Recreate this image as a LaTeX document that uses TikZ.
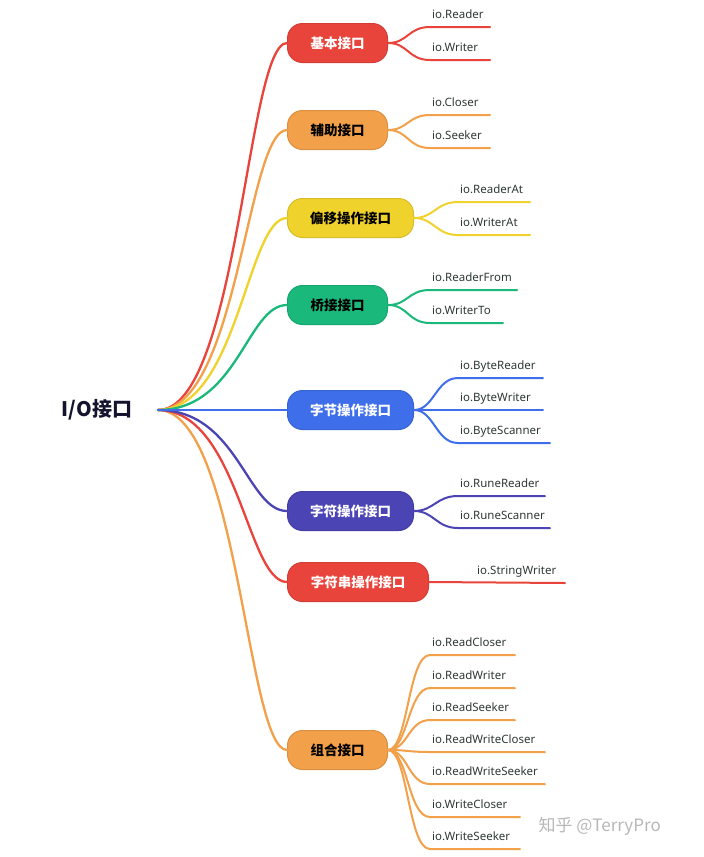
\documentclass[tikz,border=0pt]{standalone}
\usepackage{fontspec}
\setmainfont{Noto Sans}
\newfontfamily\cjk{Noto Sans CJK SC}
\definecolor{cred}{HTML}{E9443B}
\definecolor{corange}{HTML}{F2A04A}
\definecolor{cyellow}{HTML}{F0D22C}
\definecolor{cgreen}{HTML}{1AB97B}
\definecolor{cblue}{HTML}{3E6EEA}
\definecolor{cindigo}{HTML}{4B44B5}
\definecolor{cleaf}{HTML}{2E3A34}
\definecolor{croot}{HTML}{14142E}
\tikzset{
  pill/.style={rounded corners=15pt, minimum height=39pt, inner sep=0pt, anchor=west,
    line width=1pt, font=\cjk\bfseries\fontsize{13.5}{14}\selectfont},
  branch/.style={line width=2.3pt, line cap=round},
  leafline/.style={line width=2pt, line cap=round},
  leaf/.style={inner sep=0pt, text=cleaf, font=\fontsize{11.5}{12}\selectfont},
}
\newcommand{\leafset}[4]{%
  \foreach \n/\y/\e/\t in {#4} {
    \coordinate (#1-\n-s) at (#2,\y);
    \coordinate (#1-\n-e) at (\e,\y);
    \node[leaf, anchor=base west] (#1-\n) at (#2+2,\y-8.5) {\t};
    \draw[leafline, draw=#3] (#1.east) .. controls +(20,0) and +(-22,0) .. (#1-\n-s) -- (#1-\n-e);
  }}
\begin{document}
\begin{tikzpicture}[x=1pt,y=-1pt]
\useasboundingbox[fill=white] (0,0) rectangle (704,857);

% root
\node[text=croot, font=\cjk\bfseries\fontsize{20}{22}\selectfont] (root) at (97,410) {I/O接口};
\coordinate (hub) at (158,410);

% main nodes
\node[pill, minimum width=100pt, fill=cred, draw=cred!90!black, text=white] (p1) at (287,43) {基本接口};
\node[pill, minimum width=100pt, fill=corange, draw=corange!90!black, text=black] (p2) at (287,130) {辅助接口};
\node[pill, minimum width=126pt, fill=cyellow, draw=cyellow!90!black, text=black] (p3) at (287,218) {偏移操作接口};
\node[pill, minimum width=100pt, fill=cgreen, draw=cgreen!90!black, text=black] (p4) at (287,305) {桥接接口};
\node[pill, minimum width=126pt, fill=cblue, draw=cblue!90!black, text=white] (p5) at (287,410) {字节操作接口};
\node[pill, minimum width=126pt, fill=cindigo, draw=cindigo!90!black, text=white] (p6) at (287,511) {字符操作接口};
\node[pill, minimum width=141pt, fill=cred, draw=cred!90!black, text=white] (p7) at (287,582) {字符串操作接口};
\node[pill, minimum width=100pt, fill=corange, draw=corange!90!black, text=black] (p8) at (287,750) {组合接口};

% main branches
\draw[branch, draw=corange] (hub) .. controls +(80,0) and +(-40,0) .. (p8.west);
\draw[branch, draw=cred] (hub) .. controls +(80,0) and +(-40,0) .. (p7.west);
\draw[branch, draw=cindigo] (hub) .. controls +(80,0) and +(-40,0) .. (p6.west);
\draw[branch, draw=cred] (hub) .. controls +(80,0) and +(-40,0) .. (p1.west);
\draw[branch, draw=corange] (hub) .. controls +(80,0) and +(-40,0) .. (p2.west);
\draw[branch, draw=cyellow] (hub) .. controls +(80,0) and +(-40,0) .. (p3.west);
\draw[branch, draw=cgreen] (hub) .. controls +(80,0) and +(-40,0) .. (p4.west);
\draw[branch, draw=cblue] (hub) -- (p5.west);

% leaves
\leafset{p1}{430}{cred}{a/27/490/io.Reader, b/60/490/io.Writer}
\leafset{p2}{430}{corange}{a/115/490/io.Closer, b/148/490/io.Seeker}
\leafset{p3}{458}{cyellow}{a/202/530/io.ReaderAt, b/235/530/io.WriterAt}
\leafset{p4}{430}{cgreen}{a/290/517/io.ReaderFrom, b/323/503/io.WriterTo}
\leafset{p5}{458}{cblue}{a/378/543/io.ByteReader, b/410/543/io.ByteWriter, c/443/550/io.ByteScanner}
\leafset{p6}{458}{cindigo}{a/496/545/io.RuneReader, b/528/550/io.RuneScanner}
\leafset{p8}{430}{corange}{a/655/515/io.ReadCloser, b/688/515/io.ReadWriter, c/720/515/io.ReadSeeker, d/752/545/io.ReadWriteCloser, e/784/545/io.ReadWriteSeeker, f/817/520/io.WriteCloser, g/849/520/io.WriteSeeker}

% single leaf
\coordinate (p7-a-e) at (565,583);
\node[leaf, anchor=base west] (p7-a) at (477,574.5) {io.StringWriter};
\draw[leafline, draw=cred] (p7.east) -- (p7-a-e);

% watermark
\node[text=black!28, font=\cjk\fontsize{17}{18}\selectfont, anchor=west] (wm) at (535,826) {知乎 @TerryPro};
\end{tikzpicture}
\end{document}
